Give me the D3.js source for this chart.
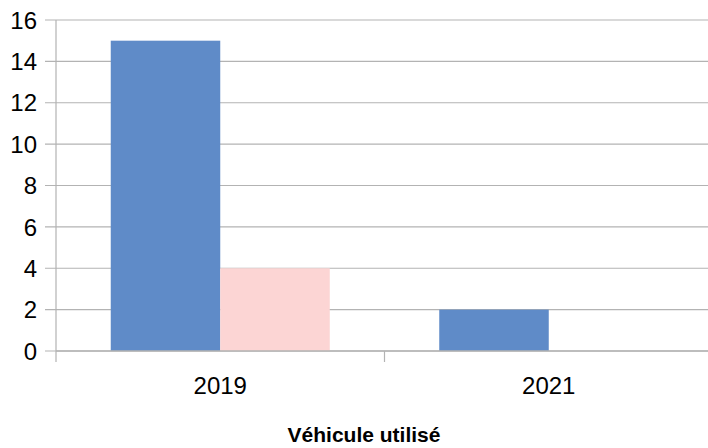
<!DOCTYPE html>
<html>
<head>
<meta charset="utf-8">
<script src="https://cdn.jsdelivr.net/npm/d3@7"></script>
<style>
  body { margin: 0; background: #fff; }
  svg { display: block; font-family: "Liberation Sans", Arial, sans-serif; }
</style>
</head>
<body>
<svg width="708" height="448"></svg>
<script>
// data
var annees = ["2019", "2021"];
var serieA = [15, 2];   // bleu
var serieB = [4, 0];    // rose
var yTicks = [0, 2, 4, 6, 8, 10, 12, 14, 16];
var couleurs = ["#5f8bc8", "#fcd5d4"];
var titreAxe = "Véhicule utilisé";

var svg = d3.select("svg");
var margin = {top: 20, left: 56, right: -5, bottom: 97};
var width = 708 - margin.left - margin.right,
    height = 448 - margin.top - margin.bottom;

var g = svg.append("g")
  .attr("transform", "translate(" + margin.left + "," + margin.top + ")");

var x = d3.scaleBand().domain(annees).range([0, width]).paddingInner(0).paddingOuter(0);
var y = d3.scaleLinear().domain([0, 16]).range([height, 0]);

// gridlines
g.selectAll(".grid")
  .data(yTicks)
  .enter().append("line")
    .attr("x1", -11)
    .attr("x2", width)
    .attr("y1", function(d) { return y(d); })
    .attr("y2", function(d) { return y(d); })
    .attr("stroke", "#b3b3b3")
    .attr("stroke-width", 1.2);

// y labels
g.selectAll(".ylab")
  .data(yTicks)
  .enter().append("text")
    .attr("x", -19)
    .attr("y", function(d) { return y(d); })
    .attr("dy", "0.36em")
    .attr("text-anchor", "end")
    .style("font-size", "24px")
    .text(function(d) { return d; });

// bars
var barW = x.bandwidth() / 3;
var series = [serieA, serieB];
series.forEach(function(s, k) {
  g.selectAll(".bar" + k)
    .data(annees)
    .enter().append("rect")
      .attr("x", function(d) { return x(d) + barW / 2 + k * barW; })
      .attr("y", function(d, i) { return y(s[i]); })
      .attr("width", barW)
      .attr("height", function(d, i) { return height - y(s[i]); })
      .attr("fill", couleurs[k]);
});

// axes lines
g.append("line")
  .attr("x1", 0).attr("x2", 0)
  .attr("y1", 0).attr("y2", height + 11)
  .attr("stroke", "#b3b3b3").attr("stroke-width", 1.2);

g.append("line")
  .attr("x1", 0).attr("x2", width)
  .attr("y1", height).attr("y2", height)
  .attr("stroke", "#b3b3b3").attr("stroke-width", 1.5);

// category ticks
var bornes = [x.range()[0] + x.bandwidth()];
g.selectAll(".ctick")
  .data(bornes)
  .enter().append("line")
    .attr("x1", function(d) { return d; })
    .attr("x2", function(d) { return d; })
    .attr("y1", height)
    .attr("y2", height + 11)
    .attr("stroke", "#b3b3b3").attr("stroke-width", 1.2);

// x labels
g.selectAll(".xlab")
  .data(annees)
  .enter().append("text")
    .attr("x", function(d) { return x(d) + x.bandwidth() / 2; })
    .attr("y", height + 34)
    .attr("dy", "0.36em")
    .attr("text-anchor", "middle")
    .style("font-size", "24px")
    .text(function(d) { return d; });

// axis title
svg.append("text")
  .attr("x", 364)
  .attr("y", 442)
  .attr("text-anchor", "middle")
  .style("font-size", "21px")
  .style("font-weight", "bold")
  .text(titreAxe);
</script>
</body>
</html>
